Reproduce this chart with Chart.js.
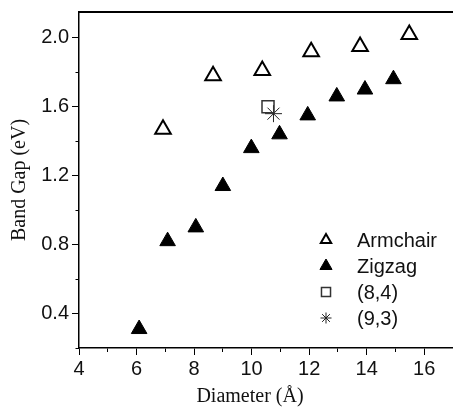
<!DOCTYPE html>
<html>
<head>
<meta charset="utf-8">
<script src="https://cdn.jsdelivr.net/npm/chart.js@4"></script>
<style>
  html, body { margin: 0; padding: 0; background: #fff; }
  canvas { display: block; }
</style>
</head>
<body>
<canvas id="myChart" width="453" height="408"></canvas>
<script>
// values
const armchairD = [6.92, 8.66, 10.37, 12.07, 13.77, 15.48];
const armchairGap = [1.47, 1.78, 1.81, 1.92, 1.95, 2.02];
const zigzagD = [6.09, 7.08, 8.06, 9.00, 9.99, 10.97, 11.95, 12.96, 13.94, 14.93];
const zigzagGap = [0.31, 0.82, 0.90, 1.14, 1.36, 1.44, 1.55, 1.66, 1.70, 1.76];
const tube84D = [10.57];
const tube84Gap = [1.60];
const tube93D = [10.76];
const tube93Gap = [1.56];
const seriesLabels = ['Armchair', 'Zigzag', '(8,4)', '(9,3)'];

const toPoints = (xs, ys) => xs.map((x, i) => ({x: x, y: ys[i]}));

const sans = 'Liberation Sans, Arial, sans-serif';
const serif = 'Liberation Serif, Times New Roman, serif';

// legend inside the plot + x title + top frame line
const extras = {
    id: 'extras',
    afterDraw(chart) {
        const ctx = chart.ctx;
        const area = chart.chartArea;
        ctx.save();
        ctx.strokeStyle = '#000';
        ctx.lineWidth = 2;
        ctx.beginPath();
        ctx.moveTo(area.left, area.top);
        ctx.lineTo(area.right, area.top);
        ctx.stroke();

        const legendSizes = [6, 7, 6.4, 5.5];
        chart.data.datasets.forEach((ds, i) => {
            const y = 240 + i * 26;
            ctx.fillStyle = ds.pointBackgroundColor;
            ctx.strokeStyle = ds.pointBorderColor;
            ctx.lineWidth = ds.pointBorderWidth;
            Chart.helpers.drawPoint(ctx, {pointStyle: ds.pointStyle, radius: legendSizes[i], borderWidth: ds.pointBorderWidth, rotation: 0}, 326, y);
            ctx.fillStyle = '#111';
            ctx.font = '20px ' + sans;
            ctx.textAlign = 'left';
            ctx.textBaseline = 'middle';
            ctx.fillText(ds.label, 357, y + 1);
        });

        ctx.fillStyle = '#111';
        ctx.font = '20px ' + serif;
        ctx.textAlign = 'center';
        ctx.textBaseline = 'middle';
        ctx.fillText('Diameter (\u00C5)', 250, 397);
        ctx.restore();
    }
};

const ctx = document.getElementById('myChart').getContext('2d');
new Chart(ctx, {
    type: 'scatter',
    data: {
        datasets: [{
            label: seriesLabels[0],
            data: toPoints(armchairD, armchairGap),
            pointStyle: 'triangle',
            pointRadius: 9,
            pointBackgroundColor: '#fff',
            pointBorderColor: '#000',
            pointBorderWidth: 2
        }, {
            label: seriesLabels[1],
            data: toPoints(zigzagD, zigzagGap),
            pointStyle: 'triangle',
            pointRadius: 9,
            pointBackgroundColor: '#000',
            pointBorderColor: '#000',
            pointBorderWidth: 1
        }, {
            label: seriesLabels[2],
            data: toPoints(tube84D, tube84Gap),
            pointStyle: 'rect',
            pointRadius: 8.5,
            pointBackgroundColor: 'rgba(255,255,255,0)',
            pointBorderColor: '#333',
            pointBorderWidth: 1.5
        }, {
            label: seriesLabels[3],
            data: toPoints(tube93D, tube93Gap),
            pointStyle: 'star',
            pointRadius: 8.5,
            pointBackgroundColor: '#000',
            pointBorderColor: '#222',
            pointBorderWidth: 1
        }]
    },
    options: {
        responsive: false,
        animation: false,
        layout: { autoPadding: false, padding: { top: 12, right: 0, left: 0, bottom: 0 } },
        plugins: {
            legend: { display: false },
            tooltip: { enabled: false }
        },
        scales: {
            x: {
                type: 'linear',
                min: 4,
                max: 17,
                afterFit: s => { s.height = 60; s.paddingLeft = 0; s.paddingRight = 0; },
                border: { color: '#000', width: 1.5 },
                grid: {
                    drawOnChartArea: false,
                    tickLength: 7,
                    tickColor: '#000',
                    tickWidth: 1,
                    tickBorderDash: c => (c.tick && c.tick.value % 2 !== 0) ? [3.5, 10] : []
                },
                ticks: {
                    stepSize: 1,
                    includeBounds: false,
                    maxRotation: 0,
                    autoSkip: false,
                    padding: 2,
                    color: '#111',
                    font: { family: sans, size: 20 },
                    callback: v => (v % 2 === 0 && v <= 16) ? String(v) : ''
                }
            },
            y: {
                type: 'linear',
                min: 0.2,
                max: 2.15,
                afterFit: s => { s.width = 79; s.paddingTop = 0; s.paddingBottom = 0; },
                border: { color: '#000', width: 1.5 },
                grid: {
                    drawOnChartArea: false,
                    tickLength: 7,
                    tickColor: '#000',
                    tickWidth: 1,
                    tickBorderDash: c => (c.tick && Math.round(c.tick.value * 10) % 4 !== 0) ? [0, 3.5, 3.5, 0] : []
                },
                ticks: {
                    stepSize: 0.2,
                    includeBounds: false,
                    autoSkip: false,
                    padding: 3,
                    color: '#111',
                    font: { family: sans, size: 20 },
                    callback: v => (Math.round(v * 10) % 4 === 0) ? v.toFixed(1) : ''
                },
                title: {
                    display: true,
                    text: 'Band Gap (eV)',
                    color: '#111',
                    padding: { top: 8, bottom: 0 },
                    font: { family: serif, size: 20 }
                }
            }
        }
    },
    plugins: [extras]
});
</script>
</body>
</html>
